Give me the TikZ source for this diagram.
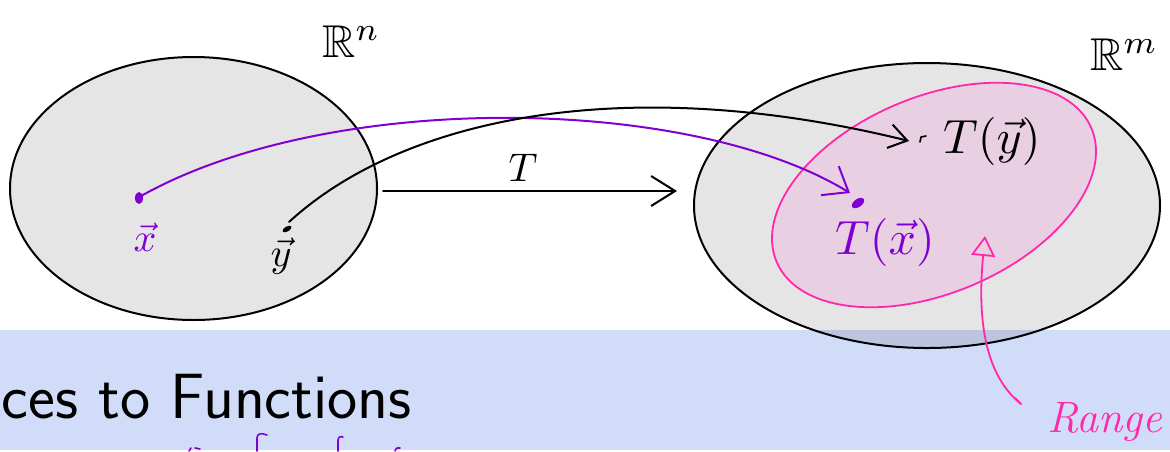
\documentclass[tikz,border=0pt]{standalone}
\usepackage{fontspec}
\usepackage{amsmath,amssymb}
\usepackage{graphicx}
\usetikzlibrary{arrows.meta}
\definecolor{bandblue}{RGB}{209,220,248}
\definecolor{inkpurple}{RGB}{128,0,212}
\definecolor{inkpink}{RGB}{255,40,170}
\definecolor{rangefill}{RGB}{232,208,226}
\begin{document}
\begin{tikzpicture}[x=1pt,y=-1pt,
  space/.style={draw=black, line width=2pt, fill=black, fill opacity=0.1, draw opacity=1},
  rangeset/.style={draw=inkpink, line width=1.8pt, fill=rangefill},
  ink/.style={line width=2pt, line cap=round, line join=round},
  lbl/.style={inner sep=0pt}]
\useasboundingbox (0,0) rectangle (1170,451);
% band
\fill[bandblue] (0,330) rectangle (1170,450);
\node[lbl, anchor=base east, font={\sffamily\fontsize{64}{76}\selectfont}] (title) at (412,418) {ces to Functions};
% sets
\draw[space] (193.5,188.5) ellipse [x radius=183.5pt, y radius=131.5pt];
\draw[space] (927,205.5) ellipse [x radius=233pt, y radius=142.5pt];
\draw[rangeset, rotate around={23:(934,195)}] (934,195) ellipse [x radius=171pt, y radius=98pt];
% labels
\node[lbl, anchor=base west] (Rn) at (322,57) {\scalebox{4.6}{$\mathbb{R}^{n}$}};
\node[lbl, anchor=base west] (Rm) at (1090,70) {\scalebox{4.6}{$\mathbb{R}^{m}$}};
\node[lbl, anchor=base] (Tlab) at (523,181) {\scalebox{4}{$T$}};
\node[lbl, anchor=base, text=inkpurple] (xlab) at (145,251) {\scalebox{4}{$\vec{x}$}};
\node[lbl, anchor=base] (ylab) at (281,266) {\scalebox{4}{$\vec{y}$}};
\node[lbl, anchor=base west] (Tylab) at (943,153) {\scalebox{4.8}{$T(\vec{y})$}};
\node[lbl, anchor=base west, text=inkpurple] (Txlab) at (835,254) {\scalebox{4.8}{$T(\vec{x})$}};
\node[lbl, anchor=base west, text=inkpink, font={\itshape\fontsize{44}{44}\selectfont}] (range) at (1047,432) {Range};
% points
\coordinate (xpt) at (141,196);
\coordinate (Txpt) at (850,193);
\coordinate (ypt) at (289,222);
\coordinate (Typt) at (909,141);
\coordinate (Ta) at (383,191);
\coordinate (Tb) at (677,191);
\coordinate (rtip) at (985,236);
\coordinate (rend) at (1021,404);
\fill[inkpurple] (139,198) ellipse [x radius=4pt, y radius=6pt];
\fill[inkpurple, rotate around={35:(858,203)}] (858,203) ellipse [x radius=7pt, y radius=4pt];
\fill[black, rotate around={30:(287,229)}] (287,229) ellipse [x radius=5pt, y radius=2.5pt];
\draw[ink, line width=1.6pt] (920,142) -- (921,137) -- (926,136);
% connectors
\draw[ink, -{Straight Barb[length=24pt,width=30pt]}] (Ta) -- (Tb);
\draw[ink, inkpurple, -{Straight Barb[length=22pt,width=34pt]}] (xpt) .. controls (330,90) and (690,95) .. (Txpt);
\draw[ink, -{Straight Barb[length=18pt,width=24pt]}] (ypt) .. controls (400,120) and (620,70) .. (Typt);
\draw[ink, inkpink, line width=1.8pt, {Triangle[open, length=20pt, width=24pt]}-] (rtip) .. controls (977,320) and (985,375) .. (rend);
\draw[ink, inkpink, line width=1.8pt] (rend) -- ++(-6,-6);
% cut-off handwriting at the bottom edge
\draw[ink, inkpurple, line width=1.6pt] (189,451) -- (191,448) (195,448) -- (200,449);
\draw[ink, inkpurple, line width=1.6pt] (257,451) -- (257,438) .. controls (257,433) and (262,433) .. (267,435);
\draw[ink, inkpurple, line width=1.6pt] (338,451) -- (338,441) .. controls (338,437) and (340,436) .. (343,437);
\draw[ink, inkpurple, line width=1.6pt] (395,451) .. controls (396,448) and (398,447) .. (400,448);
\end{tikzpicture}
\end{document}
